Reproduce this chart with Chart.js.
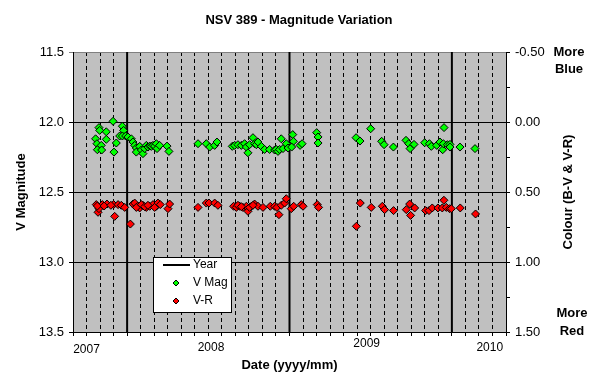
<!DOCTYPE html>
<html>
<head>
<meta charset="utf-8">
<script src="https://cdn.jsdelivr.net/npm/chart.js@4.4.1/dist/chart.umd.min.js"></script>
<style>body{margin:0;background:#fff}</style>
</head>
<body>
<canvas id="myChart" width="598" height="379"></canvas>
<script>
// months counted from the left edge of the plot (one dashed line per month)
const yearLines = [4, 16, 28];
const yearTickLabels = ['2007', '2008', '2009', '2010'];
const yearTickAt = [1.0, 10.2, 21.7, 30.8];

const vMagMonth = [1.67,1.92,1.97,1.77,2.09,1.80,2.12,2.46,2.46,2.96,3.20,3.03,3.65,3.74,3.45,3.65,3.89,4.06,4.31,4.43,
  4.56,4.68,4.68,4.93,5.05,5.17,5.30,5.42,5.54,5.67,5.79,5.91,6.03,6.16,6.21,6.40,6.95,7.09,9.24,9.85,
  10.10,10.47,10.64,11.77,11.95,12.19,12.44,12.68,12.81,12.93,13.05,13.30,13.42,13.55,13.67,13.92,14.16,14.53,14.90,15.02,
  15.15,15.27,15.39,15.52,15.76,15.89,16.24,16.29,16.16,16.78,16.93,18.01,18.11,18.11,20.92,21.21,22.00,22.81,22.99,23.68,
  24.61,24.81,24.91,25.20,25.99,26.34,26.48,26.88,27.12,27.32,27.37,27.42,27.67,27.86,27.86,28.60,29.71];
const vMag = [12.12,12.04,12.06,12.155,12.167,12.198,12.20,12.07,12.124,11.995,12.15,12.215,12.03,12.06,12.10,12.10,12.10,12.107,12.12,12.143,
  12.167,12.186,12.215,12.174,12.20,12.226,12.19,12.167,12.179,12.172,12.174,12.167,12.172,12.155,12.19,12.167,12.172,12.21,12.155,12.155,
  12.179,12.167,12.143,12.174,12.167,12.162,12.167,12.155,12.179,12.22,12.162,12.112,12.155,12.162,12.143,12.174,12.196,12.196,12.20,12.196,
  12.21,12.196,12.12,12.19,12.155,12.186,12.09,12.138,12.179,12.167,12.155,12.076,12.107,12.15,12.112,12.136,12.048,12.138,12.162,12.179,
  12.131,12.155,12.19,12.16,12.148,12.155,12.174,12.167,12.143,12.198,12.155,12.04,12.162,12.16,12.179,12.179,12.19];

const vrMonth = [1.72,1.85,1.92,2.17,2.51,3.00,3.08,3.33,3.57,3.82,4.24,4.43,4.56,4.80,4.93,5.17,5.42,5.67,5.91,6.16,
  6.28,6.45,7.02,7.14,9.24,9.85,10.05,10.47,10.71,11.87,12.07,12.32,12.56,12.81,12.93,13.18,13.42,13.67,14.04,14.58,
  14.90,15.07,15.22,15.39,15.64,15.76,16.13,16.31,16.87,17.00,18.05,18.15,20.94,21.23,22.04,22.86,23.03,23.69,24.63,24.88,
  24.95,25.25,26.06,26.31,26.55,26.97,27.29,27.41,27.59,27.83,27.96,28.62,29.75,
  1.80,2.30,2.80,4.68,5.05,5.30,5.54,6.03,12.19,12.44,13.05,13.30];
const vr = [0.59,0.645,0.619,0.59,0.586,0.59,0.674,0.59,0.595,0.61,0.729,0.586,0.579,0.602,0.614,0.595,0.61,0.602,0.59,0.602,
  0.579,0.59,0.619,0.586,0.61,0.579,0.579,0.579,0.595,0.602,0.61,0.602,0.61,0.602,0.638,0.602,0.586,0.602,0.61,0.602,
  0.602,0.61,0.662,0.595,0.579,0.548,0.619,0.602,0.59,0.602,0.59,0.61,0.745,0.579,0.61,0.602,0.626,0.633,0.626,0.586,
  0.667,0.614,0.633,0.633,0.614,0.614,0.614,0.559,0.61,0.619,0.619,0.614,0.657,
  0.60,0.60,0.595,0.61,0.59,0.605,0.595,0.61,0.595,0.605,0.61,0.595];

const magMin = 11.5, magMax = 13.5;
const FONT = '"Liberation Sans", Arial, sans-serif';

const yearData = yearLines.flatMap(m => [{x: m, y: magMin}, {x: m, y: magMax}, {x: m, y: null}]);

function diamond(ctx, x, y, r, fill) {
  ctx.beginPath();
  ctx.moveTo(x, y - r); ctx.lineTo(x + r, y); ctx.lineTo(x, y + r); ctx.lineTo(x - r, y);
  ctx.closePath();
  ctx.fillStyle = fill; ctx.fill();
  ctx.strokeStyle = '#000'; ctx.lineWidth = 1; ctx.stroke();
}

const extras = {
  id: 'extras',
  beforeDraw(chart) {
    const {ctx, chartArea: a} = chart;
    ctx.save();
    ctx.fillStyle = '#c0c0c0';
    ctx.fillRect(a.left, a.top, a.right - a.left, a.bottom - a.top);
    ctx.restore();
  },
  afterDraw(chart) {
    const {ctx, chartArea: a, scales} = chart;
    ctx.save();
    ctx.fillStyle = '#000';
    ctx.textBaseline = 'middle';
    ctx.textAlign = 'center';

    // year labels under the axis (sit at slightly different heights in the original)
    ctx.font = '12px ' + FONT;
    const dy = [18, 16, 12, 16];
    yearTickLabels.forEach((t, i) => {
      ctx.fillText(t, scales.x.getPixelForValue(yearTickAt[i]), a.bottom + dy[i]);
    });

    ctx.font = 'bold 13px ' + FONT;
    ctx.fillText('More', 569, a.top);
    ctx.fillText('Blue', 569, a.top + 17);
    ctx.fillText('More', 572, a.bottom - 19);
    ctx.fillText('Red', 572, a.bottom - 1);

    ctx.save();
    ctx.translate(568, (a.top + a.bottom) / 2);
    ctx.rotate(-Math.PI / 2);
    ctx.fillText('Colour (B-V & V-R)', 0, 0);
    ctx.restore();

    // legend box
    const lx = 153, ly = 257;
    ctx.fillStyle = '#fff';
    ctx.fillRect(lx, ly, 79, 55);
    ctx.strokeStyle = '#000';
    ctx.lineWidth = 1;
    ctx.strokeRect(lx + 0.5, ly + 0.5, 78, 55);
    ctx.font = '12px ' + FONT;
    ctx.textAlign = 'left';
    chart.data.datasets.forEach((ds, i) => {
      const yy = ly + 8 + i * 18;
      if (ds.type === 'line') {
        ctx.strokeStyle = ds.borderColor; ctx.lineWidth = ds.borderWidth;
        ctx.beginPath(); ctx.moveTo(lx + 10, yy); ctx.lineTo(lx + 37, yy); ctx.stroke();
      } else {
        diamond(ctx, lx + 23, yy, 3, ds.backgroundColor);
      }
      ctx.fillStyle = '#000';
      ctx.fillText(ds.label, lx + 40, yy);
    });
    ctx.restore();
  }
};

Chart.defaults.color = '#000';
Chart.defaults.font.family = FONT;

const config = {
  type: 'scatter',
  data: {
    datasets: [{
      type: 'line',
      label: 'Year',
      data: yearData,
      borderColor: '#000',
      borderWidth: 2,
      pointRadius: 0,
      spanGaps: false,
      order: 3
    }, {
      label: 'V Mag',
      data: vMagMonth.map((m, i) => ({x: m, y: vMag[i]})),
      pointStyle: 'rectRot',
      pointRadius: 4,
      backgroundColor: '#00ff00',
      borderColor: '#000',
      borderWidth: 1,
      order: 1
    }, {
      label: 'V-R',
      data: vrMonth.map((m, i) => ({x: m, y: vr[i]})),
      yAxisID: 'y2',
      pointStyle: 'rectRot',
      pointRadius: 4,
      backgroundColor: '#ff0000',
      borderColor: '#000',
      borderWidth: 1,
      order: 2
    }]
  },
  options: {
    responsive: false,
    devicePixelRatio: 1,
    animation: false,
    layout: {padding: 0},
    plugins: {
      legend: {display: false},
      tooltip: {enabled: false},
      title: {
        display: true,
        text: 'NSV 389 - Magnitude Variation',
        font: {size: 13, weight: 'bold'},
        padding: {top: 13, bottom: 23.4}
      }
    },
    scales: {
      x: {
        type: 'linear',
        min: 0,
        max: 32,
        afterFit: s => { s.height = 47; },
        afterBuildTicks: s => { s.ticks = Array.from({length: 33}, (_, i) => ({value: i})); },
        ticks: {autoSkip: false, callback: () => ''},
        grid: {color: '#000', tickLength: 4, lineWidth: 1},
        border: {color: '#000', dash: [4, 3]},
        title: {display: true, text: 'Date (yyyy/mm)', font: {size: 13, weight: 'bold'}, padding: {top: 0, bottom: 6}}
      },
      y: {
        position: 'left',
        min: magMin,
        max: magMax,
        reverse: true,
        afterFit: s => { s.width = 73; },
        ticks: {stepSize: 0.5, padding: 5, font: {size: 13}, callback: v => v.toFixed(1)},
        grid: {color: c => (c.tick && c.tick.value === magMin) ? '#808080' : '#000', tickLength: 4},
        border: {color: '#000'},
        title: {display: true, text: 'V Magnitude', font: {size: 13, weight: 'bold'}, padding: {top: 14, bottom: 0}}
      },
      y2: {
        position: 'right',
        min: -0.5,
        max: 1.5,
        reverse: true,
        afterFit: s => { s.width = 92; },
        ticks: {
          stepSize: 0.25, autoSkip: false, padding: 5, font: {size: 13},
          callback: v => Math.abs(v * 2 - Math.round(v * 2)) < 1e-6 ? v.toFixed(2) : ''
        },
        grid: {drawOnChartArea: false, color: '#000', tickLength: 4},
        border: {color: '#000'}
      }
    }
  },
  plugins: [extras]
};

const myChart = new Chart(document.getElementById('myChart'), config);
</script>
</body>
</html>
